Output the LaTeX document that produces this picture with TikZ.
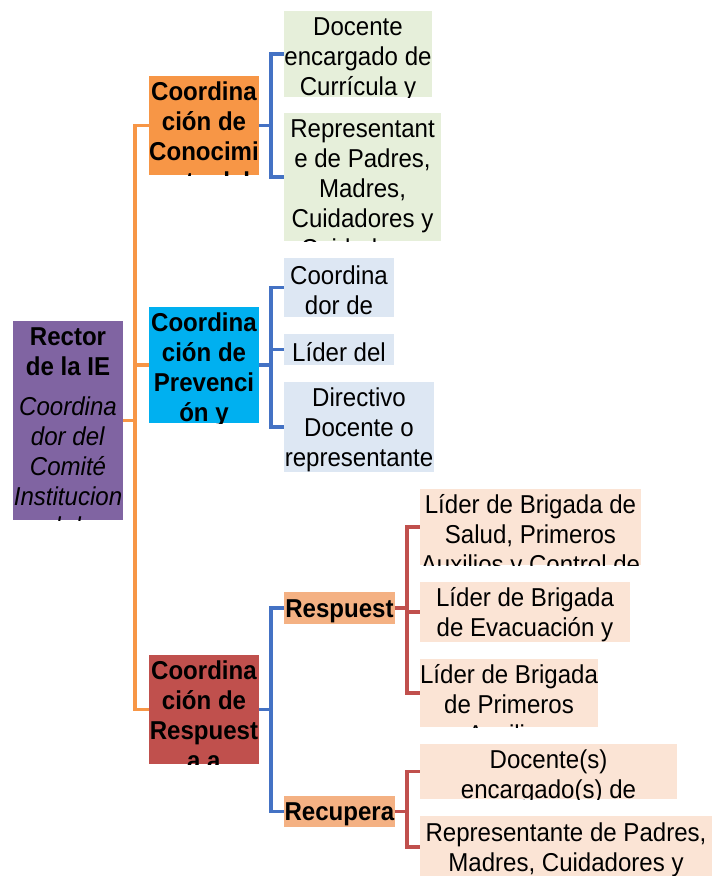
\documentclass[tikz,border=0pt]{standalone}
\usepackage{fontspec}
\setmainfont[FakeStretch=0.93]{Liberation Sans}

\definecolor{rectorpurple}{HTML}{8064A2}
\definecolor{conocorange}{HTML}{F79646}
\definecolor{prevcyan}{HTML}{00B0F0}
\definecolor{respred}{HTML}{C0504D}
\definecolor{subpeach}{HTML}{F4B183}
\definecolor{leafgreen}{HTML}{E6EFDA}
\definecolor{leafblue}{HTML}{DDE7F3}
\definecolor{leafpeach}{HTML}{FBE4D5}
\definecolor{lineblue}{HTML}{4472C4}

\tikzset{
  box/.style={anchor=north west, inner sep=0pt, outer sep=0pt},
  size/.style 2 args={minimum width=#1*0.75pt, minimum height=#2*0.75pt},
  lbl/.style={path picture={\node[anchor=north, inner sep=0pt, align=center,
      font=\fontsize{19.4}{22.5}\selectfont] (t) at (path picture bounding box.north) {\rule{0pt}{18pt}#1};}},
  oline/.style={draw=conocorange, line width=2.6pt},
  bline/.style={draw=lineblue, line width=2.6pt},
  rline/.style={draw=respred, line width=2.6pt}
}

\begin{document}
\begin{tikzpicture}[x=0.75pt, y=-0.75pt]
	\clip (0,0) rectangle (712,876);
	% main boxes
	\node[box, fill=rectorpurple, size={110}{199}, lbl={\textbf{Rector}\\\textbf{de la IE}\\[7.5pt]\textit{Coordina}\\\textit{dor del}\\\textit{Comité}\\\textit{Institucion}\\\textit{al de}}] (rector) at (13,321) {};
	\node[box, fill=conocorange, size={110}{99}, lbl={\textbf{Coordina}\\\textbf{ción de}\\\textbf{Conocimi}\\\textbf{ento del}}] (conoc) at (149,76) {};
	\node[box, fill=prevcyan, size={110}{116}, lbl={\textbf{Coordina}\\\textbf{ción de}\\\textbf{Prevenci}\\\textbf{ón y}}] (prev) at (149,307) {};
	\node[box, fill=respred, size={110}{109}, lbl={\textbf{Coordina}\\\textbf{ción de}\\\textbf{Respuest}\\\textbf{a a}}] (resp) at (149,655) {};
	% conocimiento
	\node[box, fill=leafgreen, size={148}{86}, lbl={Docente\\encargado de\\Currícula y}] (kc1) at (284,11) {};
	\node[box, fill=leafgreen, size={157}{128}, lbl={Representant\\e de Padres,\\Madres,\\Cuidadores y\\Cuidadoras}] (kc2) at (284,113) {};
	% prevencion
	\node[box, fill=leafblue, size={110}{59}, lbl={Coordina\\dor de}] (pv1) at (284,258) {};
	\node[box, fill=leafblue, size={110}{31}, lbl={Líder del}] (pv2) at (284,334) {};
	\node[box, fill=leafblue, size={150}{90}, lbl={Directivo\\Docente o\\representante}] (pv3) at (284,382) {};
	% respuesta
	\node[box, fill=subpeach, size={111}{32}, lbl={\textbf{Respuest}}] (rsp) at (284,592) {};
	\node[box, fill=subpeach, size={111}{31}, lbl={\textbf{Recupera}}] (rec) at (284,796) {};
	\node[box, fill=leafpeach, size={221}{76}, lbl={Líder de Brigada de\\Salud, Primeros\\Auxilios y Control de}] (rs1) at (420,489) {};
	\node[box, fill=leafpeach, size={210}{60}, lbl={Líder de Brigada\\de Evacuación y}] (rs2) at (420,582) {};
	\node[box, fill=leafpeach, size={178}{68}, lbl={Líder de Brigada\\de Primeros\\Auxilios}] (rs3) at (420,659) {};
	\node[box, fill=leafpeach, size={257}{55}, lbl={Docente(s)\\encargado(s) de}] (rc1) at (420,744) {};
	\node[box, fill=leafpeach, size={292}{62}, lbl={Representante de Padres,\\Madres, Cuidadores y}] (rc2) at (420,816) {};
	% brackets
	\coordinate (o1) at ([xshift=9pt]rector.east);
	\draw[oline] (rector.east) -- (o1);
	\foreach \n in {conoc,prev,resp} \draw[oline] (o1) |- (\n.west);
	\coordinate (b1) at ([xshift=9pt]conoc.east);
	\draw[bline] (conoc.east) -- (b1);
	\foreach \n in {kc1,kc2} \draw[bline] (b1) |- (\n.west);
	\coordinate (b2) at ([xshift=9pt]prev.east);
	\draw[bline] (prev.east) -- (b2);
	\foreach \n in {pv1,pv2,pv3} \draw[bline] (b2) |- (\n.west);
	\coordinate (b3) at ([xshift=9pt]resp.east);
	\draw[bline] (resp.east) -- (b3);
	\foreach \n in {rsp,rec} \draw[bline] (b3) |- (\n.west);
	\coordinate (r1) at ([xshift=9pt]rsp.east);
	\draw[rline] (rsp.east) -- (r1);
	\foreach \n in {rs1,rs2,rs3} \draw[rline] (r1) |- (\n.west);
	\coordinate (r2) at ([xshift=9pt]rec.east);
	\draw[rline] (rec.east) -- (r2);
	\foreach \n in {rc1,rc2} \draw[rline] (r2) |- (\n.west);
\end{tikzpicture}
\end{document}
